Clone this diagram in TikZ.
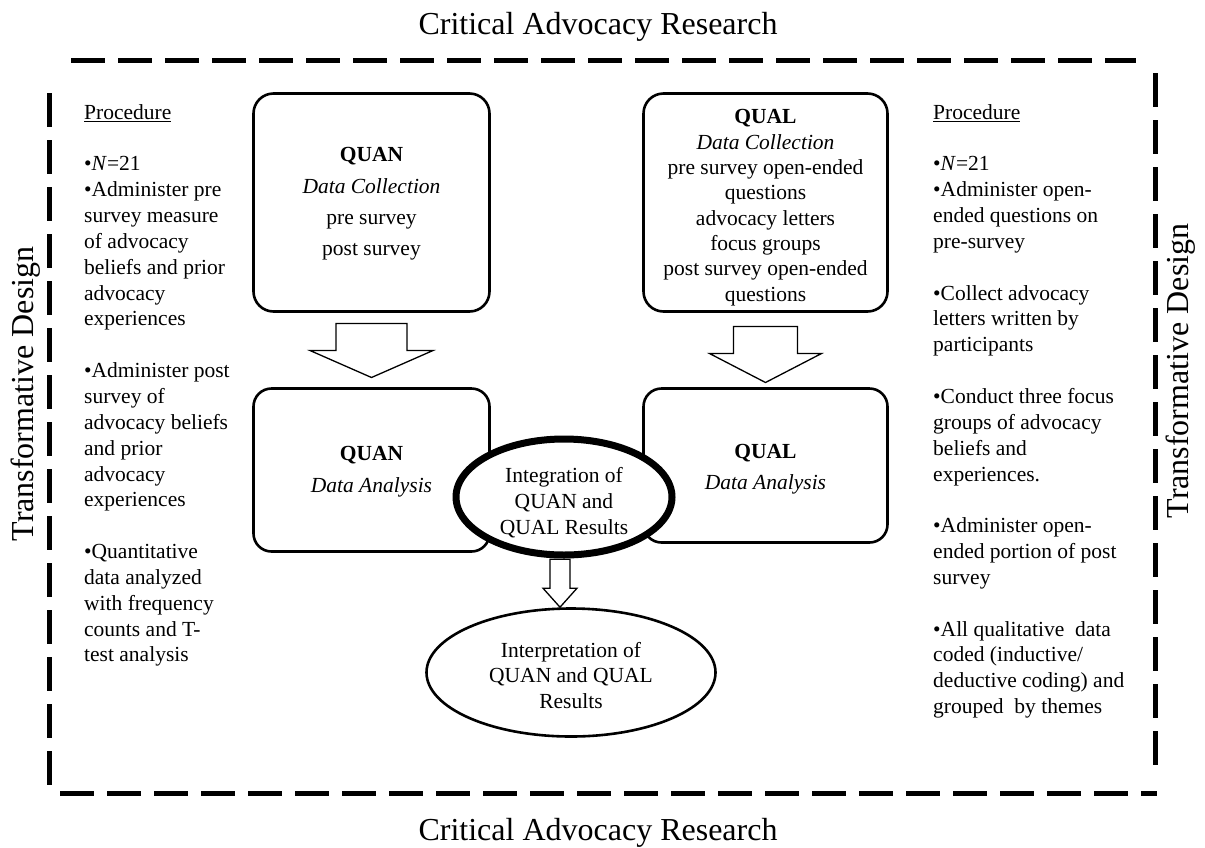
\documentclass[tikz,border=0pt]{standalone}
\usepackage{fontspec}
\setmainfont{Liberation Serif}
\usepackage{tikz}
\usetikzlibrary{positioning,calc,shapes.geometric}
\tikzset{
  every node/.append style={font=\fontsize{21.5}{25.85}\selectfont},
}
\tikzset{
  border/.style={line width=5pt, dash pattern=on 34pt off 13pt},
  blockarrow/.style={draw, line width=1.3pt, fill=white, line join=miter},
  proc/.style={anchor=north west, align=left, inner sep=0pt}
}

\begin{document}
\begin{tikzpicture}[
    x=1pt, y=-1pt,
    databox/.style={
        rectangle,
        draw,
        line width=2.6pt,
        rounded corners=20pt,
        align=center,
        inner sep=0pt
    },
    result/.style={
        ellipse,
        draw,
        fill=white,
        align=center,
        inner sep=0pt
    },
    frametitle/.style={font=\fontsize{32}{36}\selectfont, inner sep=0pt}
]
\useasboundingbox (0,0) rectangle (1205,847);

% Frame
\draw[border] (71,60) -- (1136,60);
\draw[border] (1155,73) -- (1155,770);
\draw[border] (49,93) -- (49,790);
\draw[border] (60,793) -- (1157,793);

\node[frametitle, anchor=base] (top) at (598,34) {Critical Advocacy Research};
\node[frametitle, anchor=base] (bottom) at (598,840) {Critical Advocacy Research};
\node[frametitle, rotate=90] (designl) at (26,394) {Transformative Design};
\node[frametitle, rotate=90] (designr) at (1181,371) {Transformative Design};

% Procedures
\node[proc] (procl) at (84,104) {\underline{Procedure}\\[25.85pt]
\textbullet\textit{N}=21\\
\textbullet Administer pre\\
survey measure\\
of advocacy\\
beliefs and prior\\
advocacy\\
experiences\\[25.85pt]
\textbullet Administer post\\
survey of\\
advocacy beliefs\\
and prior\\
advocacy\\
experiences\\[25.85pt]
\textbullet Quantitative\\
data analyzed\\
with frequency\\
counts and T-\\
test analysis};

\node[proc] (procr) at (933,104) {\underline{Procedure}\\[25.85pt]
\textbullet\textit{N}=21\\
\textbullet Administer open-\\
ended questions on\\
pre-survey\\[25.85pt]
\textbullet Collect advocacy\\
letters written by\\
participants\\[25.85pt]
\textbullet Conduct three focus\\
groups of advocacy\\
beliefs and\\
experiences.\\[25.85pt]
\textbullet Administer open-\\
ended portion of post\\
survey\\[25.85pt]
\textbullet All qualitative\ \ data\\
coded (inductive/\\
deductive coding) and\\
grouped\ \ by themes};

% Strands
\node[databox, minimum width=236pt, minimum height=218pt, font=\fontsize{21.5}{31.3}\selectfont] (qncol) at (371.5,202.5)
  {\rule{0pt}{17pt}\textbf{QUAN}\\\textit{Data Collection}\\pre survey\\post survey};
\node[databox, minimum width=244pt, minimum height=218pt, font=\fontsize{21.5}{25.3}\selectfont] (qlcol) at (765.5,202.5)
  {\rule{0pt}{24.5pt}\textbf{QUAL}\\\textit{Data Collection}\\pre survey open-ended\\questions\\advocacy letters\\focus groups\\post survey open-ended\\questions};
\node[databox, minimum width=236pt, minimum height=163pt, rounded corners=18pt, font=\fontsize{21.5}{32}\selectfont] (qnana) at (371.5,470)
  {\rule{0pt}{18.5pt}\textbf{QUAN}\\\textit{Data Analysis}};
\node[databox, minimum width=244pt, minimum height=154pt, rounded corners=18pt, font=\fontsize{21.5}{31}\selectfont] (qlana) at (765.5,465.5)
  {\rule{0pt}{21.5pt}\textbf{QUAL}\\\textit{Data Analysis}};

% Results
\node[result, line width=7pt, minimum width=216pt, minimum height=116pt] (integ) at (564,497)
  {\rule{0pt}{26pt}Integration of\\QUAN and\\QUAL Results};
\node[result, line width=2.6pt, minimum width=289pt, minimum height=128pt] (interp) at (571,672.5)
  {\rule{0pt}{21pt}Interpretation of\\QUAN and QUAL\\Results};

% Block arrows
\draw[blockarrow] ([yshift=9.7pt]qnana.north) -- ++(61.5,-27) -- ++(-26,0) -- ++(0,-27)
  -- ++(-71,0) -- ++(0,27) -- ++(-26,0) -- cycle;
\draw[blockarrow] ([yshift=4.7pt]qlana.north) -- ++(56,-29) -- ++(-24,0) -- ++(0,-27)
  -- ++(-64,0) -- ++(0,27) -- ++(-24,0) -- cycle;
\draw[blockarrow] ([xshift=-11pt]interp.north) -- ++(17,-19) -- ++(-7,0) -- ++(0,-29)
  -- ++(-20,0) -- ++(0,29) -- ++(-7,0) -- cycle;
\end{tikzpicture}
\end{document}
